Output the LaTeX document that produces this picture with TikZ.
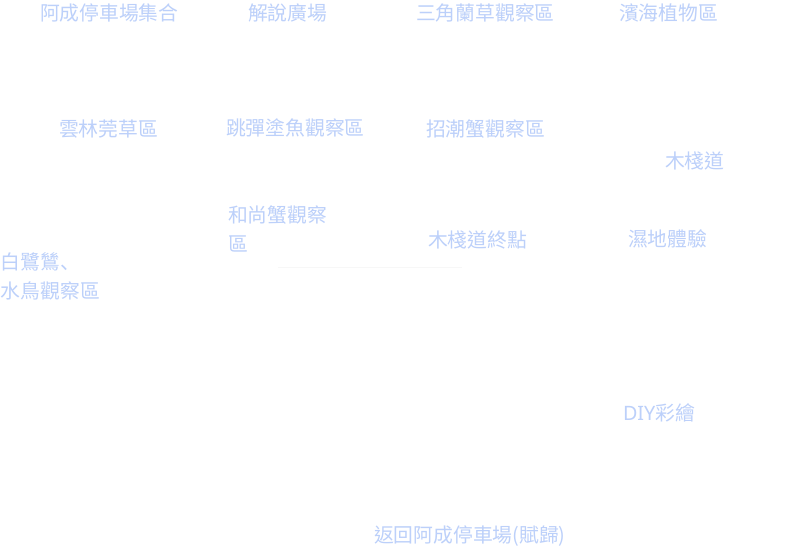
\documentclass[tikz,border=0pt]{standalone}
\usepackage{fontspec}
\newfontfamily\cjk{Noto Sans CJK TC}
\newfontfamily\cjkcomma{Noto Sans CJK SC}
\newfontfamily\latin{Noto Sans}
\definecolor{labelblue}{HTML}{BCD0FA}
\definecolor{faintrule}{HTML}{F7F7F7}
\tikzset{
  spot/.style={anchor=base west, inner sep=0pt, outer sep=0pt, text=labelblue,
    font=\cjk\fontsize{19.8pt}{29.5pt}\selectfont, align=left},
}
\begin{document}
\begin{tikzpicture}[x=1pt,y=-1pt]
  \useasboundingbox[fill=white] (0,0) rectangle (804,551);
  % top row
  \node[spot] (start)   at (40,20.5)  {阿成停車場集合};
  \node[spot] (plaza)   at (248,20.5) {解說廣場};
  \node[spot] (lan)     at (416,20.5) {三角蘭草觀察區};
  \node[spot] (plants)  at (619,20.5) {濱海植物區};
  % second row
  \node[spot] (grass)   at (59,136.5)  {雲林莞草區};
  \node[spot] (mudskip) at (226,135.5) {跳彈塗魚觀察區};
  \node[spot] (fiddler) at (426,136.5) {招潮蟹觀察區};
  \node[spot] (walk)    at (665,168.5) {木棧道};
  % third row (two-line labels are placed by their last line)
  \node[spot] (soldier) at (228,251.5) {和尚蟹觀察\\區};
  \node[spot] (walkend) at (428,247.5) {木棧道終點};
  \node[spot] (wetland) at (628,246.5) {濕地體驗};
  \node[spot] (birds)   at (1,298.5)   {白鷺鷥{\cjkcomma 、}\\水鳥觀察區};
  % lower part
  \node[spot] (diy)     at (623,420.5) {{\latin DIY}彩繪};
  \node[spot] (back)    at (374,542.5) {返回阿成停車場(賦歸)};
  % faint rule under the crab area
  \coordinate (ruleA) at (278,267.5);
  \coordinate (ruleB) at (462,267.5);
  \draw[faintrule, line width=1pt] (ruleA) -- (ruleB);
\end{tikzpicture}
\end{document}
